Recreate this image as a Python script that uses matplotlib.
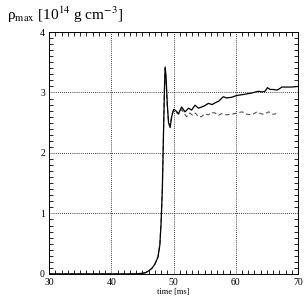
import matplotlib
matplotlib.use('Agg')
import matplotlib.pyplot as plt
from matplotlib.ticker import MultipleLocator

# --- data (time in ms, rho_max in 1e14 g/cm^3) ---

t_solid = [30, 40, 43, 44, 45, 45.5, 46, 46.5, 47, 47.5, 47.8, 48.0, 48.2, 48.4,
           48.55, 48.65, 48.8, 49.0, 49.2, 49.45, 49.7, 50.0, 50.24, 50.8, 51.3,
           51.85, 52.4, 52.9, 53.45, 54.0, 54.5, 55.0, 55.6, 56.2, 56.7, 57.3,
           58.0, 58.5, 59.3, 60.15, 60.8, 61.4, 62.5, 63.6, 64.2, 64.7, 65.1,
           65.5, 66.0, 66.6, 67.0, 67.4, 68.0, 69.0, 70.0]
rho_solid = [0.0, 0.0, 0.0, 0.002, 0.01, 0.02, 0.05, 0.09, 0.16, 0.28, 0.48, 0.85,
             1.4, 2.4, 3.1, 3.42, 3.25, 2.8, 2.5, 2.42, 2.6, 2.72, 2.71, 2.65, 2.76,
             2.68, 2.74, 2.71, 2.79, 2.74, 2.76, 2.78, 2.82, 2.8, 2.83, 2.86,
             2.93, 2.91, 2.92, 2.95, 2.96, 2.97, 2.99, 3.02, 3.01, 3.02, 3.08,
             3.05, 3.05, 3.04, 3.06, 3.09, 3.09, 3.09, 3.1]

t_dash = [30, 40, 43, 44, 45, 45.5, 46, 46.5, 47, 47.5, 47.8, 48.0, 48.2, 48.4,
          48.55, 48.65, 48.8, 49.0, 49.2, 49.45, 49.7, 50.0, 50.3, 50.8, 51.3,
          51.8, 52.1, 52.6, 53.1, 53.5, 54.0, 54.5, 55.0, 55.6, 56.1, 56.7,
          57.2, 57.7, 58.5, 59.3, 60.2, 61.0, 61.8, 62.6, 63.4, 64.0, 64.5,
          65.3, 66.0, 66.5]
rho_dash = [0.0, 0.0, 0.0, 0.002, 0.01, 0.02, 0.05, 0.09, 0.16, 0.28, 0.48, 0.85,
            1.4, 2.4, 3.1, 3.4, 3.2, 2.75, 2.5, 2.45, 2.62, 2.7, 2.68, 2.64, 2.72,
            2.64, 2.6, 2.66, 2.62, 2.66, 2.6, 2.6, 2.65, 2.63, 2.67, 2.66,
            2.62, 2.65, 2.63, 2.64, 2.66, 2.68, 2.64, 2.63, 2.68, 2.65, 2.64,
            2.68, 2.64, 2.65]

x_ticks = [30, 40, 50, 60, 70]
y_ticks = [0, 1, 2, 3, 4]

# --- plot ---

plt.rcParams['font.family'] = ['Liberation Serif', 'DejaVu Serif']
plt.rcParams['mathtext.fontset'] = 'stix'

fig = plt.figure(figsize=(3.05, 3.05), dpi=100)
ax = fig.add_axes([0.161, 0.102, 0.816, 0.793])

ax.plot(t_dash, rho_dash, color='#555555', lw=0.8, linestyle=(0, (4, 2.5)))
ax.plot(t_solid, rho_solid, color='black', lw=0.9)

ax.set_xlim(30, 70)
ax.set_ylim(0, 4)
ax.set_xticks(x_ticks)
ax.set_yticks(y_ticks)
ax.xaxis.set_minor_locator(MultipleLocator(1))
ax.yaxis.set_minor_locator(MultipleLocator(0.1))
ax.tick_params(which='both', direction='in', top=True, right=True, width=0.6)
ax.tick_params(which='major', length=0, labelsize=7, pad=3)
ax.tick_params(which='minor', length=3)
for s in ax.spines.values():
    s.set_linewidth(0.7)

ax.grid(True, which='major', linestyle=(0, (1, 1.5)), color='black', lw=0.6)

ax.set_xlabel('time [ms]', fontsize=6, labelpad=1)
fig.text(0.023, 0.935, 'ρ$_{\\mathrm{max}}$ [10$^{14}$ g cm$^{-3}$]', fontsize=11,
         ha='left', va='baseline')

fig.savefig('out.png', dpi=100)
